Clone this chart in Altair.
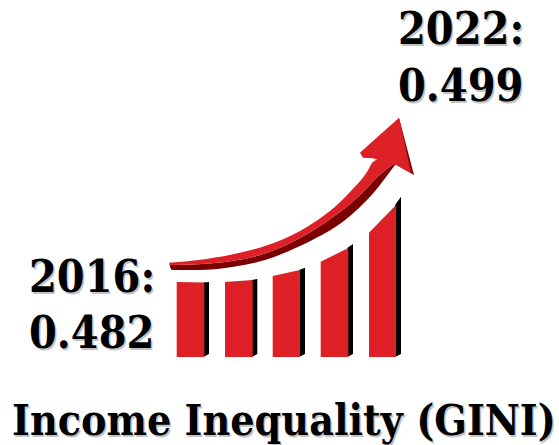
import altair as alt
import pandas as pd

# Staircase of rising bars: front face x-range, top edge heights, and black side face
bar_left = [176.7, 225, 272.7, 320.7, 369]
bar_right = [204.3, 252.7, 300, 348.3, 396]
bar_side = [209, 257.3, 305, 353, 401]
top_left = [282, 282, 276, 261.7, 232.7]
top_right = [282.5, 280, 270, 248, 205]
side_top = [282, 279, 267.7, 244, 196.7]
bar_base = 357

# Swoosh: top surface upper and lower edges, and dark underside edge
sw_x = [169, 172, 198, 232, 265, 300, 317, 333, 350, 367, 373, 383, 395]
sw_up = [262.7, 262.5, 260, 254.5, 246, 231, 220.5, 208.5, 192, 172, 162, 158, 160]
sw_mid = [263, 265, 264.3, 261, 253.5, 238, 228, 217, 204, 188, 181.5, 172, 163]
sw_low = [263, 270, 270, 267, 260, 246, 237.5, 228.5, 216, 200, 193.5, 181, 165]

# Arrow head outline
head_x = [360, 363, 372.7, 395.7, 399, 411]
head_top = [152.7, 150, 141.3, 120.7, 117.7, 172.5]
head_low = [152.7, 157.7, 158.3, 165, 166.5, 173]
edge_x = [399, 414]
edge_top = [117.7, 175]
edge_low = [166.5, 175]

YEAR_A, VAL_A = "2016:", "0.482"
YEAR_B, VAL_B = "2022:", "0.499"
TITLE = "Income Inequality (GINI)"
RED, DARK = "#dd1f26", "#7a0000"
FONT = "DejaVu Serif Condensed"

xs = alt.Scale(domain=[0, 559])
ys = alt.Scale(domain=[445, 0])
nx = alt.X("x:Q", scale=xs, axis=None)
ny = alt.Y("y:Q", scale=ys, axis=None)


def facet(x, top, low, color, interpolate="linear"):
    df = pd.DataFrame({"x": x, "y": top, "y2": low})
    return alt.Chart(df).mark_area(color=color, interpolate=interpolate).encode(x=nx, y=ny, y2="y2:Q")


layers = []
for i in range(5):
    layers.append(facet([bar_right[i] - 1, bar_side[i]], [top_right[i], side_top[i]], [bar_base, bar_base - 3], "#000000"))
    layers.append(facet([bar_left[i], bar_right[i]], [top_left[i], top_right[i]], [bar_base, bar_base], RED))

layers.append(facet(sw_x, sw_mid, sw_low, DARK, "monotone"))
layers.append(facet(sw_x, sw_up, sw_mid, RED, "monotone"))
layers.append(facet(edge_x, edge_top, edge_low, DARK))
layers.append(facet(head_x, head_top, head_low, RED))


def text(label, x, y, size, shadow=False):
    off = 1.5 if shadow else 0
    df = pd.DataFrame({"x": [x + off], "y": [y + off], "t": [label]})
    return alt.Chart(df).mark_text(
        font=FONT, fontWeight="bold", fontSize=size, align="left", baseline="alphabetic",
        color="#555555" if shadow else "#000000", opacity=0.35 if shadow else 1,
    ).encode(x=nx, y=ny, text="t:N")


for label, x, y, size in [
    (YEAR_A, 29, 292, 44.5), (VAL_A, 29, 348, 44.5),
    (YEAR_B, 398, 44, 44.5), (VAL_B, 398, 101, 44.5),
    (TITLE, 12, 435, 42.5),
]:
    layers.append(text(label, x, y, size, shadow=True))
    layers.append(text(label, x, y, size))

chart = alt.layer(*layers).properties(width=559, height=445, padding=0, background="white").configure_view(stroke=None)
chart.save("out.html", embed_options={"renderer": "svg", "actions": False})
